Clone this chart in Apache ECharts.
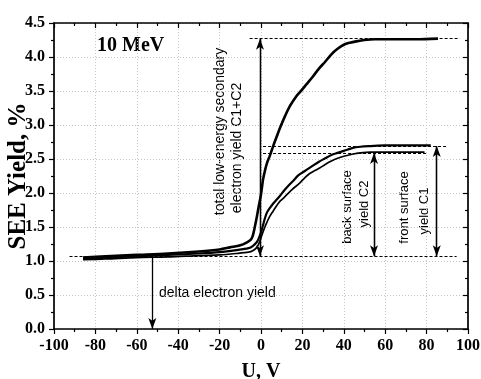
<!DOCTYPE html>
<html lang="en">

<head>
    <meta charset="UTF-8">
    <title>SEE Yield</title>
    <script src="https://cdn.jsdelivr.net/npm/echarts@6/dist/echarts.min.js"></script>
    <style>
        body { margin: 0; background: #fff; }
    </style>
</head>

<body>
    <div id="main" style="width: 481px;height:379px;"></div>

    <script type="text/javascript">
        // curves, [U (V), yield (%)]
        const totalYield = [
            [-86, 1.05], [-75, 1.07], [-60, 1.09], [-45, 1.11], [-30, 1.14], [-20, 1.17], [-15, 1.2], [-10, 1.23],
            [-7, 1.27], [-5, 1.31], [-4, 1.37], [-3, 1.5], [-2, 1.65], [-1, 1.82], [0, 1.98], [1, 2.2], [2, 2.34],
            [3, 2.45], [4.3, 2.55], [6, 2.7], [7.6, 2.83], [9.5, 2.98], [11.6, 3.13], [14, 3.28], [17, 3.42],
            [19, 3.49], [22, 3.6], [25, 3.71], [28, 3.83], [31, 3.93], [34, 4.04], [37, 4.12], [40, 4.18],
            [43, 4.21], [46, 4.23], [50, 4.25], [55, 4.26], [65, 4.26], [75, 4.26], [85.5, 4.27]
        ];
        const frontYield = [
            [-86, 1.03], [-75, 1.05], [-60, 1.07], [-45, 1.09], [-30, 1.11], [-20, 1.13], [-12, 1.16], [-6, 1.19],
            [-4, 1.22], [-2, 1.28], [-1, 1.34], [0, 1.42], [1, 1.53], [2, 1.64], [3, 1.72], [4.5, 1.79], [6, 1.85],
            [7.5, 1.9], [9.2, 1.96], [11, 2.03], [13, 2.1], [15.6, 2.18], [18, 2.26], [21, 2.32], [24, 2.38],
            [28, 2.46], [31, 2.51], [34, 2.56], [37, 2.59], [40, 2.62], [44, 2.66], [48, 2.68], [53, 2.69],
            [60, 2.7], [70, 2.7], [82, 2.7]
        ];
        const backYield = [
            [-86, 1.02], [-75, 1.03], [-60, 1.05], [-45, 1.06], [-30, 1.08], [-20, 1.09], [-12, 1.11], [-6, 1.13],
            [-4, 1.15], [-2, 1.2], [-1, 1.26], [0, 1.34], [1, 1.43], [2, 1.51], [3, 1.58], [4.3, 1.66], [6, 1.74],
            [7.5, 1.81], [9.2, 1.88], [11, 1.93], [13, 1.99], [15, 2.05], [18.8, 2.15], [21, 2.22], [23.7, 2.29],
            [26, 2.33], [28.5, 2.37], [31, 2.42], [34, 2.47], [37, 2.51], [40, 2.54], [44, 2.57], [48, 2.59],
            [53, 2.6], [60, 2.6], [70, 2.6], [79, 2.6]
        ];

        // reference levels and arrows
        const baseLevel = 1.07;
        const totalLevel = 4.27;
        const frontLevel = 2.69;
        const backLevel = 2.59;
        // [U, from, to]
        const arrows = [
            [-0.5, baseLevel, totalLevel],
            [54.6, baseLevel, backLevel],
            [84.9, baseLevel, frontLevel],
            [-52.5, baseLevel, 0]
        ];
        // [U from, U to, level]
        const guides = [
            [-5.5, 96, totalLevel],
            [1, 90, frontLevel],
            [1, 80, backLevel],
            [-92.5, 94.5, baseLevel]
        ];

        const serif = 'Liberation Serif';

        const myChart = echarts.init(document.getElementById('main'));

        const markData = [];
        guides.forEach(g => {
            markData.push([
                { coord: [g[0], g[2]], symbol: 'none', lineStyle: { type: [3, 2], width: 1, color: '#000' } },
                { coord: [g[1], g[2]], symbol: 'none' }
            ]);
        });
        arrows.forEach(a => {
            markData.push([
                { coord: [a[0], a[1]], symbol: 'none', lineStyle: { type: 'solid', width: 1.3, color: '#000' } },
                { coord: [a[0], a[2]], symbol: 'arrow', symbolSize: [6, 11] }
            ]);
        });
        // arrows on the lower end for the three upper arrows
        arrows.slice(0, 3).forEach(a => {
            markData.push([
                { coord: [a[0], a[2]], symbol: 'none', lineStyle: { type: 'solid', width: 1.3, color: '#000' } },
                { coord: [a[0], a[1]], symbol: 'arrow', symbolSize: [6, 11] }
            ]);
        });

        const axisCommon = {
            type: 'value',
            axisLine: { show: true, onZero: false, lineStyle: { color: '#000', width: 1.7 } },
            axisTick: { show: true, length: 5, lineStyle: { color: '#000', width: 1.2 } },
            minorTick: { show: true, splitNumber: 2, length: 3, lineStyle: { color: '#000', width: 1.2 } },
            splitLine: { show: false },
            minorSplitLine: { show: false }
        };

        const option = {
            animation: false,
            grid: { left: 54, right: 13, top: 23, bottom: 50, containLabel: false, outerBoundsMode: 'none' },
            xAxis: [
                Object.assign({}, axisCommon, {
                    min: -100, max: 100, interval: 20, position: 'bottom',
                    axisTick: Object.assign({}, axisCommon.axisTick, { inside: false }),
                    splitLine: { show: true, lineStyle: { color: '#c4c4c4', type: [1, 2], width: 1 } },
                    axisLabel: { margin: 9, color: '#000', fontFamily: serif, fontWeight: 'bold', fontSize: 16 },
                    name: 'U, V', nameLocation: 'middle', nameGap: 33, nameMoveOverlap: false,
                    nameTextStyle: { color: '#000', fontFamily: serif, fontWeight: 'bold', fontSize: 20 }
                }),
                Object.assign({}, axisCommon, {
                    min: -100, max: 100, interval: 20, position: 'top',
                    axisTick: Object.assign({}, axisCommon.axisTick, { inside: true }),
                    minorTick: Object.assign({}, axisCommon.minorTick, { inside: true }),
                    axisLabel: { show: false }
                })
            ],
            yAxis: [
                Object.assign({}, axisCommon, {
                    min: 0, max: 4.5, interval: 0.5, position: 'left',
                    axisTick: Object.assign({}, axisCommon.axisTick, { inside: false }),
                    splitLine: { show: true, lineStyle: { color: '#c4c4c4', type: [1, 2], width: 1 } },
                    axisLabel: {
                        margin: 9, color: '#000', fontFamily: serif, fontWeight: 'bold', fontSize: 16,
                        formatter: v => v.toFixed(1)
                    },
                    name: 'SEE Yield, %', nameLocation: 'middle', nameGap: 23, nameRotate: 90, nameMoveOverlap: false,
                    nameTextStyle: { color: '#000', fontFamily: serif, fontWeight: 'bold', fontSize: 25 }
                }),
                Object.assign({}, axisCommon, {
                    min: 0, max: 4.5, interval: 0.5, position: 'right',
                    axisTick: Object.assign({}, axisCommon.axisTick, { inside: true }),
                    minorTick: Object.assign({}, axisCommon.minorTick, { inside: true }),
                    axisLabel: { show: false }
                })
            ],
            series: [
                {
                    name: 'C1+C2', type: 'line', data: totalYield, showSymbol: false, smooth: 0.3,
                    lineStyle: { color: '#000', width: 2.6 },
                    markLine: {
                        silent: true, animation: false, symbol: 'none',
                        label: { show: false },
                        emphasis: { disabled: true },
                        data: markData
                    }
                },
                {
                    name: 'C1', type: 'line', data: frontYield, showSymbol: false, smooth: 0.3,
                    lineStyle: { color: '#000', width: 2.2 }
                },
                {
                    name: 'C2', type: 'line', data: backYield, showSymbol: false, smooth: 0.3,
                    lineStyle: { color: '#000', width: 1.7 }
                }
            ],
            graphic: [
                { type: 'text', x: 97, y: 46, style: { text: '10 MeV', fill: '#000', font: 'bold 20px "Liberation Serif"', verticalAlign: 'middle' } },
                { type: 'text', x: 220, y: 131.5, rotation: Math.PI / 2, style: { text: 'total low-energy secondary', fill: '#000', font: '14px "Liberation Sans"', align: 'center', verticalAlign: 'middle' } },
                { type: 'text', x: 237, y: 148, rotation: Math.PI / 2, style: { text: 'electron yield C1+C2', fill: '#000', font: '14px "Liberation Sans"', align: 'center', verticalAlign: 'middle' } },
                { type: 'text', x: 347, y: 207, rotation: Math.PI / 2, style: { text: 'back surface', fill: '#000', font: '13px "Liberation Sans"', align: 'center', verticalAlign: 'middle' } },
                { type: 'text', x: 364, y: 204, rotation: Math.PI / 2, style: { text: 'yield C2', fill: '#000', font: '13px "Liberation Sans"', align: 'center', verticalAlign: 'middle' } },
                { type: 'text', x: 404, y: 207.5, rotation: Math.PI / 2, style: { text: 'front surface', fill: '#000', font: '13px "Liberation Sans"', align: 'center', verticalAlign: 'middle' } },
                { type: 'text', x: 424, y: 211, rotation: Math.PI / 2, style: { text: 'yield C1', fill: '#000', font: '13px "Liberation Sans"', align: 'center', verticalAlign: 'middle' } },
                { type: 'text', x: 159, y: 293, style: { text: 'delta electron yield', fill: '#000', font: '14px "Liberation Sans"', verticalAlign: 'middle' } }
            ]
        };

        myChart.setOption(option);
    </script>
</body>

</html>
